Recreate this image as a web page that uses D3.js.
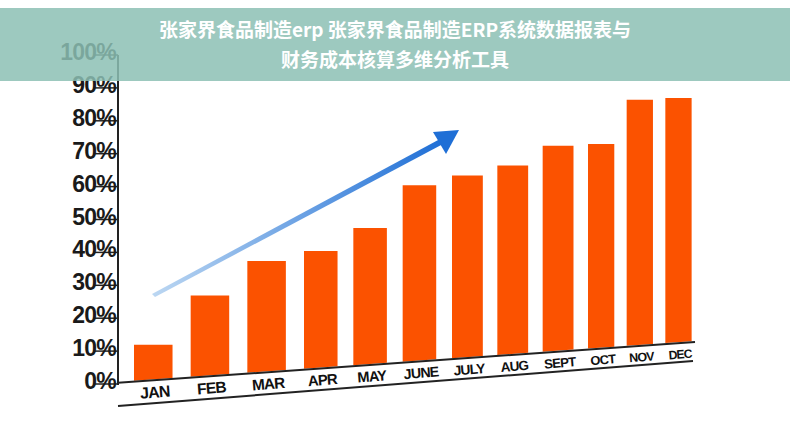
<!DOCTYPE html>
<html><head><meta charset="utf-8">
<script src="https://cdn.jsdelivr.net/npm/d3@7"></script>
<style>body{margin:0;background:#fff}</style>
</head><body><svg id="c" width="790" height="440"></svg>
<script>
const months = ["JAN","FEB","MAR","APR","MAY","JUNE","JULY","AUG","SEPT","OCT","NOV","DEC"];
const values = [11, 26, 36.5, 39.5, 46.5, 59.5, 62.5, 65.5, 71.5, 72, 85.5, 86];
const yTicks = [0,10,20,30,40,50,60,70,80,90,100];
const titleLines = ["张家界食品制造erp 张家界食品制造ERP系统数据报表与","财务成本核算多维分析工具"];

const svg = d3.select("#c");
const y = d3.scaleLinear().domain([0,100]).range([381,52]);
// bars get narrower to the right (perspective)
const x = d3.scaleLinear().domain([0,3,6,9,12]).range([134,304,452,588,704]);
const upper = d3.scaleLinear().domain([115,695]).range([383,342]);
const lower = d3.scaleLinear().domain([118,693]).range([406,361]);

const defs = svg.append("defs");
const g1 = defs.append("linearGradient").attr("id","ag").attr("x1","0").attr("x2","1");
g1.append("stop").attr("offset","0").attr("stop-color","#bcd7f2");
g1.append("stop").attr("offset","1").attr("stop-color","#1f6fd6");

const font = "Liberation Sans Narrow, Arial Narrow, sans-serif";

// y axis
svg.append("line").attr("x1",118).attr("x2",118).attr("y1",55).attr("y2",385)
  .attr("stroke","#222").attr("stroke-width",2);
svg.selectAll(".tk").data(yTicks).join("line")
  .attr("x1",94).attr("x2",118).attr("y1",d=>y(d)+3).attr("y2",d=>y(d)+3)
  .attr("stroke","#222").attr("stroke-width",1.5);
svg.selectAll(".yt").data(yTicks).join("text")
  .attr("x",116).attr("y",d=>y(d)+8).attr("text-anchor","end")
  .attr("font-family",font).attr("font-weight","bold")
  .attr("font-size",23).attr("letter-spacing","-0.8").attr("fill","#1a1a1a")
  .text(d=>d+"%");

// bars
const bw = i => (x(i+1)-x(i))*0.68;
svg.selectAll(".bar").data(values).join("path")
  .attr("fill","#fb5200")
  .attr("d",(d,i)=>{
    const x0 = x(i), x1 = x(i) + bw(i);
    return `M${x0},${y(d)}H${x1}V${upper(x1)-1}L${x0},${upper(x0)-1}Z`;
  });

// two tilted baselines
svg.append("line").attr("x1",118).attr("y1",upper(118)).attr("x2",695).attr("y2",upper(695))
  .attr("stroke","#222").attr("stroke-width",2);
svg.append("line").attr("x1",118).attr("y1",lower(118)).attr("x2",693).attr("y2",lower(693))
  .attr("stroke","#222").attr("stroke-width",2);
const ang = Math.atan2(lower(693)-lower(118), 575)*180/Math.PI;
svg.selectAll(".xl").data(months).join("text")
  .attr("transform",(d,i)=>{
    const cx = x(i) + bw(i)/2 + 2;
    return `translate(${cx},${(upper(cx)+lower(cx))/2+6}) rotate(${ang})`;
  })
  .attr("text-anchor","middle")
  .attr("font-family",font).attr("font-weight","bold")
  .attr("font-size",(d,i)=>16-i*0.35).attr("fill","#111").attr("letter-spacing","-0.8")
  .text(d=>d);

// arrow
svg.append("path").attr("d","M152,294 L440,139 L443,144 L155,297 Z").attr("fill","url(#ag)");
svg.append("path").attr("d","M459,130 L433,132 L446,154 Z").attr("fill","#1f6fd6");

// title banner
svg.append("rect").attr("x",0).attr("y",8).attr("width",790).attr("height",73)
  .attr("fill","#8cbfb4").attr("opacity",0.85);
svg.selectAll(".tt").data(titleLines).join("text")
  .attr("x",395).attr("y",(d,i)=>37+i*30).attr("text-anchor","middle")
  .attr("font-family","Noto Sans CJK SC, sans-serif").attr("font-weight","bold")
  .attr("font-size",19).attr("fill","#fff").text(d=>d);
</script></body></html>
